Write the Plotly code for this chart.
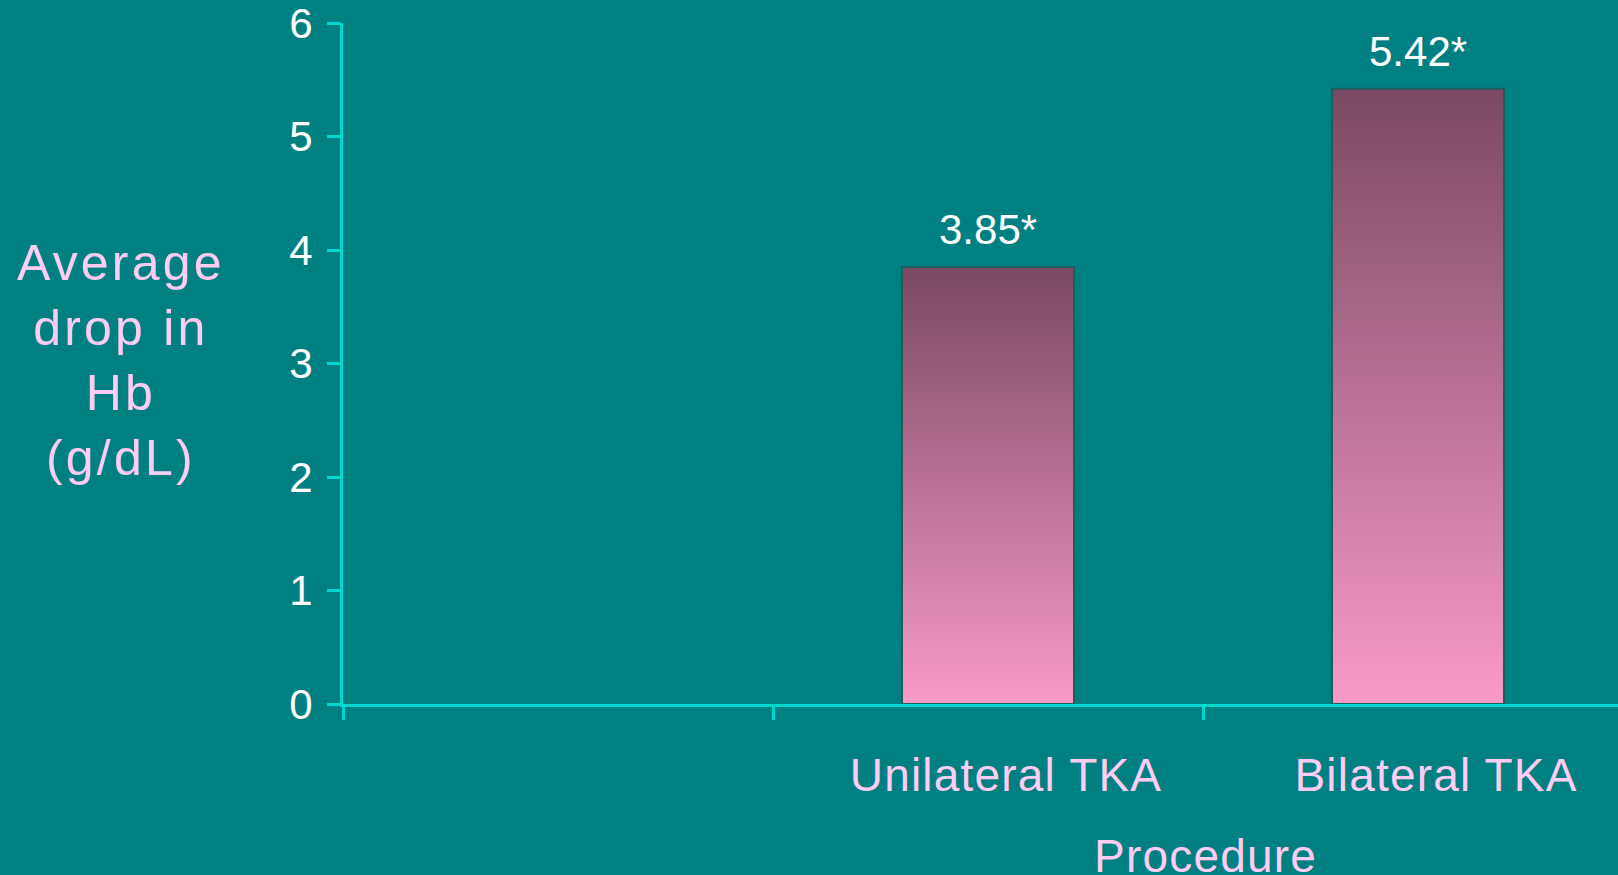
import plotly.graph_objects as go

# ---- data ----
categories = ["", "Unilateral TKA", "Bilateral TKA"]
values = [None, 3.85, 5.42]
value_labels = ["", "3.85*", "5.42*"]
y_ticks = [0, 1, 2, 3, 4, 5, 6]
y_title_lines = ["Average", "drop in", "Hb", "(g/dL)"]
x_title = "Procedure"

# ---- styles ----
BG = "#008080"
AXIS = "#00d6d0"
PINK = "#ffccf4"
BAR_W = 0.4
GRAD = [[0.0, "#f99ac9"], [1.0, "#7a4962"]]
FONT = "Liberation Sans, Arial, sans-serif"


def spaced(t, px):
    return '<span style="letter-spacing:%spx">%s</span>' % (px, t) if t else t


W, H = 1618, 875
ML, MR, MT, MB = 343, 0, 23, 171

positions = list(range(len(categories)))
bar_x = [p for p, v in zip(positions, values) if v is not None]
bar_y = [v for v in values if v is not None]

fig = go.Figure()

# transparent bars (geometry / hover reference)
fig.add_trace(go.Bar(
    x=bar_x, y=bar_y, width=BAR_W, xaxis="x2",
    marker=dict(color="rgba(0,0,0,0)", line=dict(width=0)),
    hoverinfo="y", showlegend=False,
))

# gradient-filled bar bodies
for p, v in zip(bar_x, bar_y):
    x0, x1 = p - BAR_W / 2, p + BAR_W / 2
    fig.add_trace(go.Scatter(
        x=[x0, x1, x1, x0, x0], y=[0, 0, v, v, 0],
        mode="lines", fill="toself",
        fillgradient=dict(type="vertical", colorscale=GRAD),
        line=dict(color="#1b5e5e", width=2),
        hoverinfo="skip", showlegend=False,
    ))

# value labels
for p, v, t in zip(positions, values, value_labels):
    if v is None:
        continue
    fig.add_annotation(x=p, y=v, text=t, showarrow=False, xanchor="center",
                       yanchor="bottom", yshift=12,
                       font=dict(family=FONT, size=42, color="white"))

x_range = [-0.5, -0.5 + (W - ML) / 430.0]

fig.update_layout(
    width=W, height=H,
    margin=dict(l=ML, r=MR, t=MT, b=MB),
    paper_bgcolor=BG, plot_bgcolor=BG,
    font=dict(family=FONT),
    showlegend=False,
    bargap=0,
    xaxis=dict(
        type="linear", range=x_range,
        tickvals=[p - 0.5 for p in positions] + [positions[-1] + 0.5],
        showticklabels=False,
        ticks="outside", ticklen=13, tickwidth=3, tickcolor=AXIS,
        showline=True, linecolor=AXIS, linewidth=3,
        showgrid=False, zeroline=False,
    ),
    xaxis2=dict(
        type="linear", range=x_range, overlaying="x", anchor="y", side="bottom",
        tickvals=positions, ticktext=[spaced(c, 1.2) for c in categories],
        ticks="", showline=False, showgrid=False, zeroline=False,
        tickfont=dict(family=FONT, size=46, color=PINK),
        ticklabelshift=18, ticklabelstandoff=40, ticklabeloverflow="allow",
    ),
    yaxis=dict(
        range=[0, 6], tickvals=y_ticks,
        ticks="outside", ticklen=13, tickwidth=3, tickcolor=AXIS,
        showline=True, linecolor=AXIS, linewidth=3,
        showgrid=False, zeroline=False,
        tickfont=dict(family=FONT, size=42, color="white"),
        ticklabelstandoff=6, ticklabeloverflow="allow",
    ),
)

pw = W - ML - MR
ph = H - MT - MB
fig.add_annotation(xref="paper", yref="paper", x=(121 - ML) / pw, y=(H - MB - 360) / ph,
                   text="<br>".join(spaced(s, 3.2) for s in y_title_lines),
                   showarrow=False, xanchor="center", yanchor="middle",
                   align="center", font=dict(family=FONT, size=50, color=PINK))
fig.add_annotation(xref="paper", yref="paper", x=(1205 - ML) / pw, y=(H - MB - 856) / ph,
                   text=spaced(x_title, 1.2), showarrow=False, xanchor="center", yanchor="middle",
                   font=dict(family=FONT, size=46, color=PINK))

fig.write_html("out.html", config={"displayModeBar": False},
               post_script="document.body.style.margin='0';")
